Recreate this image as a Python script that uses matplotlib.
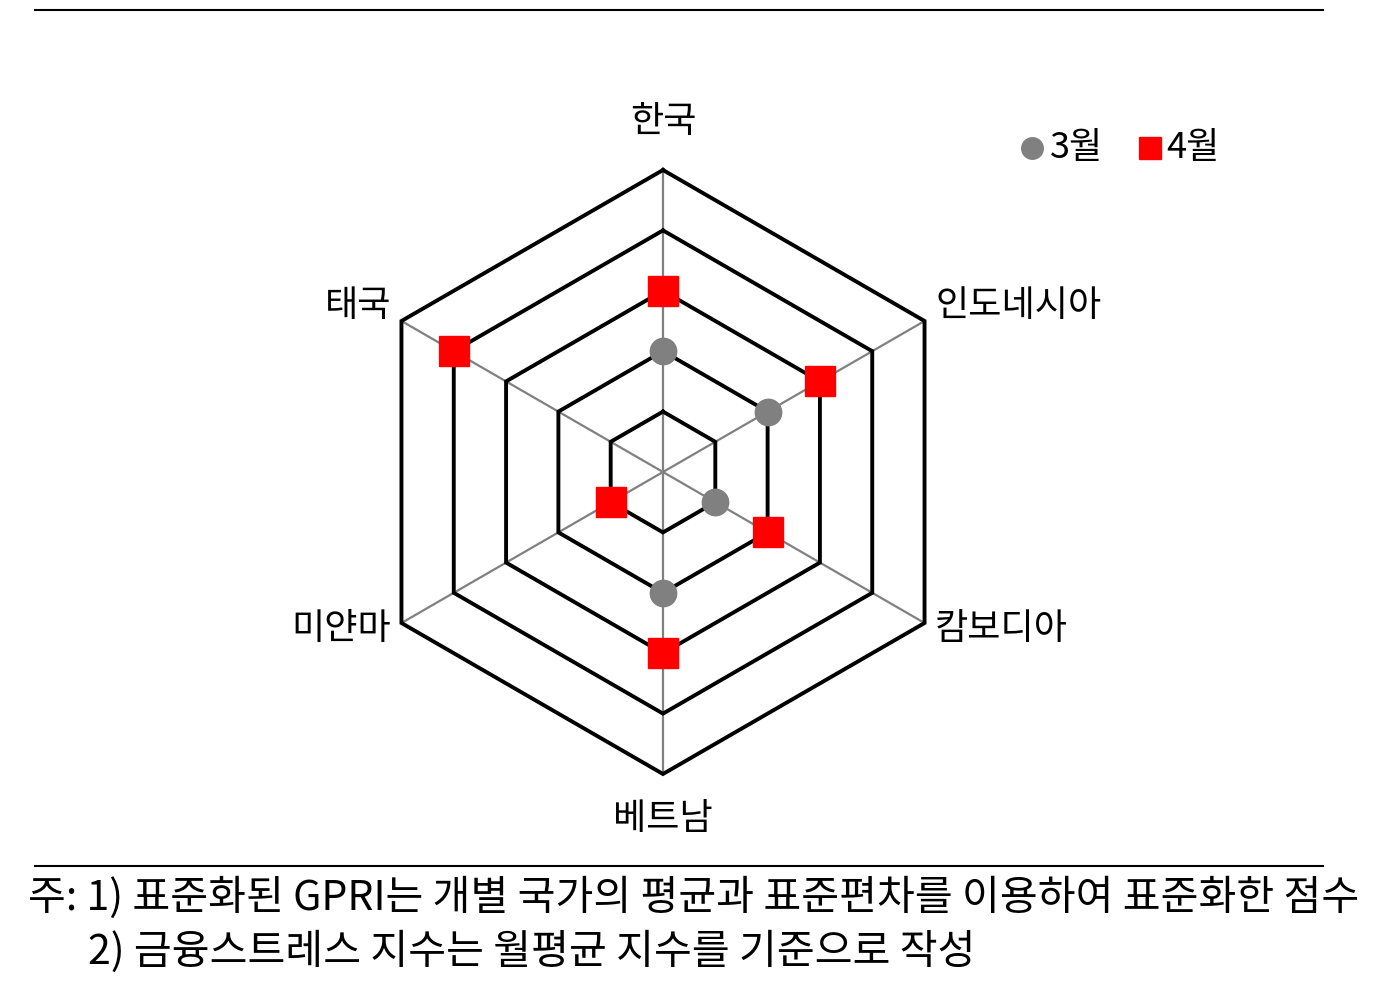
import matplotlib
matplotlib.use('Agg')
import matplotlib.pyplot as plt
import numpy as np

plt.rcParams['font.family'] = ['Noto Sans CJK KR', 'DejaVu Sans']

# data (ring units, centre = 0, outer ring = 5)
countries = ['한국', '인도네시아', '캄보디아', '베트남', '미얀마', '태국']
march = [2, 2, 1, 2, 1, 4]
april = [3, 3, 2, 3, 1, 4]
rings = [1, 2, 3, 4, 5]
legend_labels = ['3월', '4월']
note1 = '주: 1) 표준화된 GPRI는 개별 국가의 평균과 표준편차를 이용하여 표준화한 점수'
note2 = '2) 금융스트레스 지수는 월평균 지수를 기준으로 작성'

W, H = 1388, 994
fig = plt.figure(figsize=(W / 100, H / 100), dpi=100)

# radar axes: centre at (663, 472) px, one ring = 60.4 px
cx, cy, unit, lim = 663, 472, 60.4, 6
side = 2 * lim * unit
ax = fig.add_axes([(cx - lim * unit) / W, (H - cy - lim * unit) / H, side / W, side / H])
ax.set_xlim(-lim, lim)
ax.set_ylim(-lim, lim)
ax.axis('off')

ang = np.deg2rad([90, 30, -30, -90, -150, 150])
cs, sn = np.cos(ang), np.sin(ang)

# spokes
for c, s in zip(cs, sn):
    ax.plot([0, 5 * c], [0, 5 * s], color='#808080', lw=1.6, zorder=1)
# rings
for r in rings:
    xs = np.append(r * cs, r * cs[0])
    ys = np.append(r * sn, r * sn[0])
    ax.plot(xs, ys, color='black', lw=2.8, zorder=2, solid_joinstyle='miter')

m = np.array(march)
a = np.array(april)
ax.plot(m * cs, m * sn, 'o', color='#808080', ms=19, ls='none', zorder=3)
ax.plot(a * cs, a * sn, 's', color='#ff0000', ms=21, ls='none', zorder=4)

# category labels
lab_r = [5.8, 5.2, 5.2, 5.75, 5.2, 5.2]
ha = ['center', 'left', 'left', 'center', 'right', 'right']
dy = [0, 0.15, 0, 0, 0, 0.15]
for name, r, c, s, h, d in zip(countries, lab_r, cs, sn, ha, dy):
    ax.text(r * c, r * s + d, name, ha=h, va='center', fontsize=26)

# legend
ly = 1 - 148 / H
fig.add_artist(plt.Line2D([1032 / W], [ly], marker='o', ms=15.5, color='#808080', ls='none'))
fig.text(1050 / W, ly, legend_labels[0], fontsize=26, ha='left', va='center')
fig.add_artist(plt.Line2D([1150 / W], [ly], marker='s', ms=15.5, color='#ff0000', ls='none'))
fig.text(1166 / W, ly, legend_labels[1], fontsize=26, ha='left', va='center')

# rules
fig.add_artist(plt.Line2D([35 / W, 1323 / W], [1 - 10 / H, 1 - 10 / H], color='black', lw=1.5))
fig.add_artist(plt.Line2D([35 / W, 1323 / W], [1 - 866 / H, 1 - 866 / H], color='black', lw=1.5))

# notes
fig.text(28 / W, 1 - 898 / H, note1, fontsize=29.6, ha='left', va='center')
fig.text(88 / W, 1 - 952 / H, note2, fontsize=29.6, ha='left', va='center')

fig.savefig('out.png', dpi=100)
